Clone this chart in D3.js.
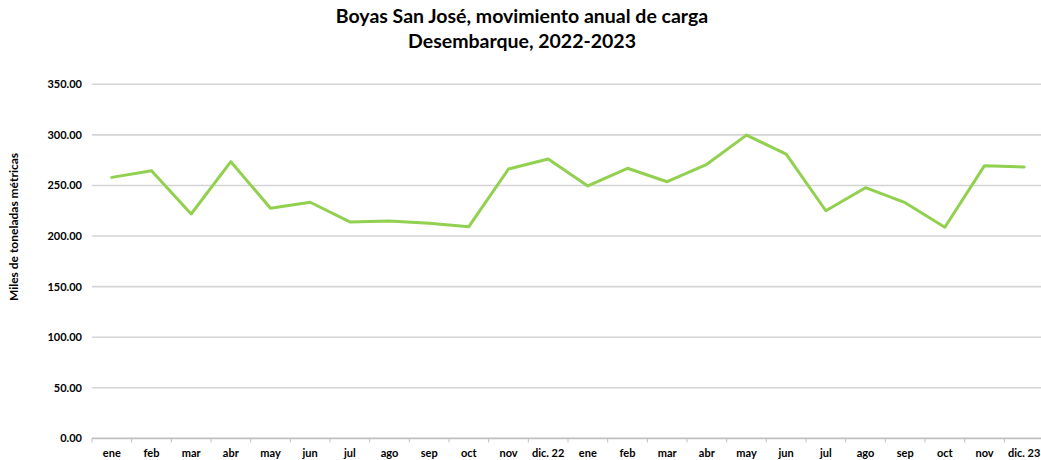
<!DOCTYPE html>
<html>
<head>
<meta charset="utf-8">
<script src="https://cdn.jsdelivr.net/npm/d3@7"></script>
<style>
    body { margin: 0; background: #fff; }
    text { font-family: Lato, "Open Sans", sans-serif; font-weight: bold; fill: #000; }
</style>
</head>
<body>
<svg id="chart_svg" width="1041" height="460"></svg>
<script>
// chart data
const g_months = ["ene", "feb", "mar", "abr", "may", "jun", "jul", "ago", "sep", "oct", "nov", "dic. 22",
    "ene", "feb", "mar", "abr", "may", "jun", "jul", "ago", "sep", "oct", "nov", "dic. 23"];
const g_values = [258.0, 264.6, 221.8, 273.5, 227.4, 233.4, 214.0, 214.8, 212.6, 209.3, 266.3, 276.2,
    249.5, 267.0, 253.7, 270.9, 299.8, 281.0, 225.0, 247.8, 233.0, 208.7, 269.6, 268.3];
const g_y_ticks = [0, 50, 100, 150, 200, 250, 300, 350];
const g_title = ["Boyas San José, movimiento anual de carga", "Desembarque, 2022-2023"];
const g_y_label = "Miles de toneladas métricas";

draw_chart();

function draw_chart() {
    var svg = d3.select("#chart_svg");
    var plot = { left: 92, right: 1044, top: 84.3, bottom: 438.4 };

    // set scaler
    var x_scaler = d3.scaleBand().domain(d3.range(g_months.length)).range([plot.left, plot.right]);
    var y_scaler = d3.scaleLinear().domain([0, 350]).range([plot.bottom, plot.top]);

    // title
    svg.selectAll(".title").data(g_title).join("text").classed("title", true)
        .attr("x", 522).attr("y", (d, i) => 23 + i * 25)
        .attr("text-anchor", "middle").style("font-size", "19.5px")
        .text(d => d);

    // gridlines
    svg.selectAll(".grid").data(g_y_ticks.filter(d => d > 0)).join("line").classed("grid", true)
        .attr("x1", plot.left).attr("x2", plot.right)
        .attr("y1", d => y_scaler(d)).attr("y2", d => y_scaler(d))
        .attr("style", "stroke:#d4d4d4; stroke-width:1.6");

    // y tick labels
    svg.selectAll(".ytick").data(g_y_ticks).join("text").classed("ytick", true)
        .attr("x", 82).attr("y", d => y_scaler(d) + 4)
        .attr("text-anchor", "end").style("font-size", "11px")
        .text(d => d.toFixed(2));

    // y axis title
    svg.append("text")
        .attr("transform", "translate(18," + 227 + ") rotate(-90)")
        .attr("text-anchor", "middle").style("font-size", "12px")
        .text(g_y_label);

    // x axis line and ticks at band boundaries
    svg.append("line")
        .attr("x1", plot.left).attr("x2", plot.right)
        .attr("y1", plot.bottom).attr("y2", plot.bottom)
        .attr("style", "stroke:#bfbfbf; stroke-width:1.6");
    var bounds = d3.range(g_months.length + 1).map(i => plot.left + i * x_scaler.step());
    svg.selectAll(".xtick").data(bounds).join("line").classed("xtick", true)
        .attr("x1", d => d).attr("x2", d => d)
        .attr("y1", plot.bottom).attr("y2", plot.bottom + 4)
        .attr("style", "stroke:#bfbfbf; stroke-width:1");

    // x labels
    svg.selectAll(".xlabel").data(g_months).join("text").classed("xlabel", true)
        .attr("x", (d, i) => x_scaler(i) + x_scaler.bandwidth() / 2).attr("y", 457)
        .attr("text-anchor", "middle").style("font-size", "11px")
        .text(d => d);

    // data line
    var line = d3.line()
        .x((d, i) => x_scaler(i) + x_scaler.bandwidth() / 2)
        .y(d => y_scaler(d));
    svg.append("path").datum(g_values)
        .attr("style", "stroke:#92d050; stroke-width:3; fill:none; stroke-linejoin:round; stroke-linecap:round")
        .attr("d", line);
}
</script>
</body>
</html>
